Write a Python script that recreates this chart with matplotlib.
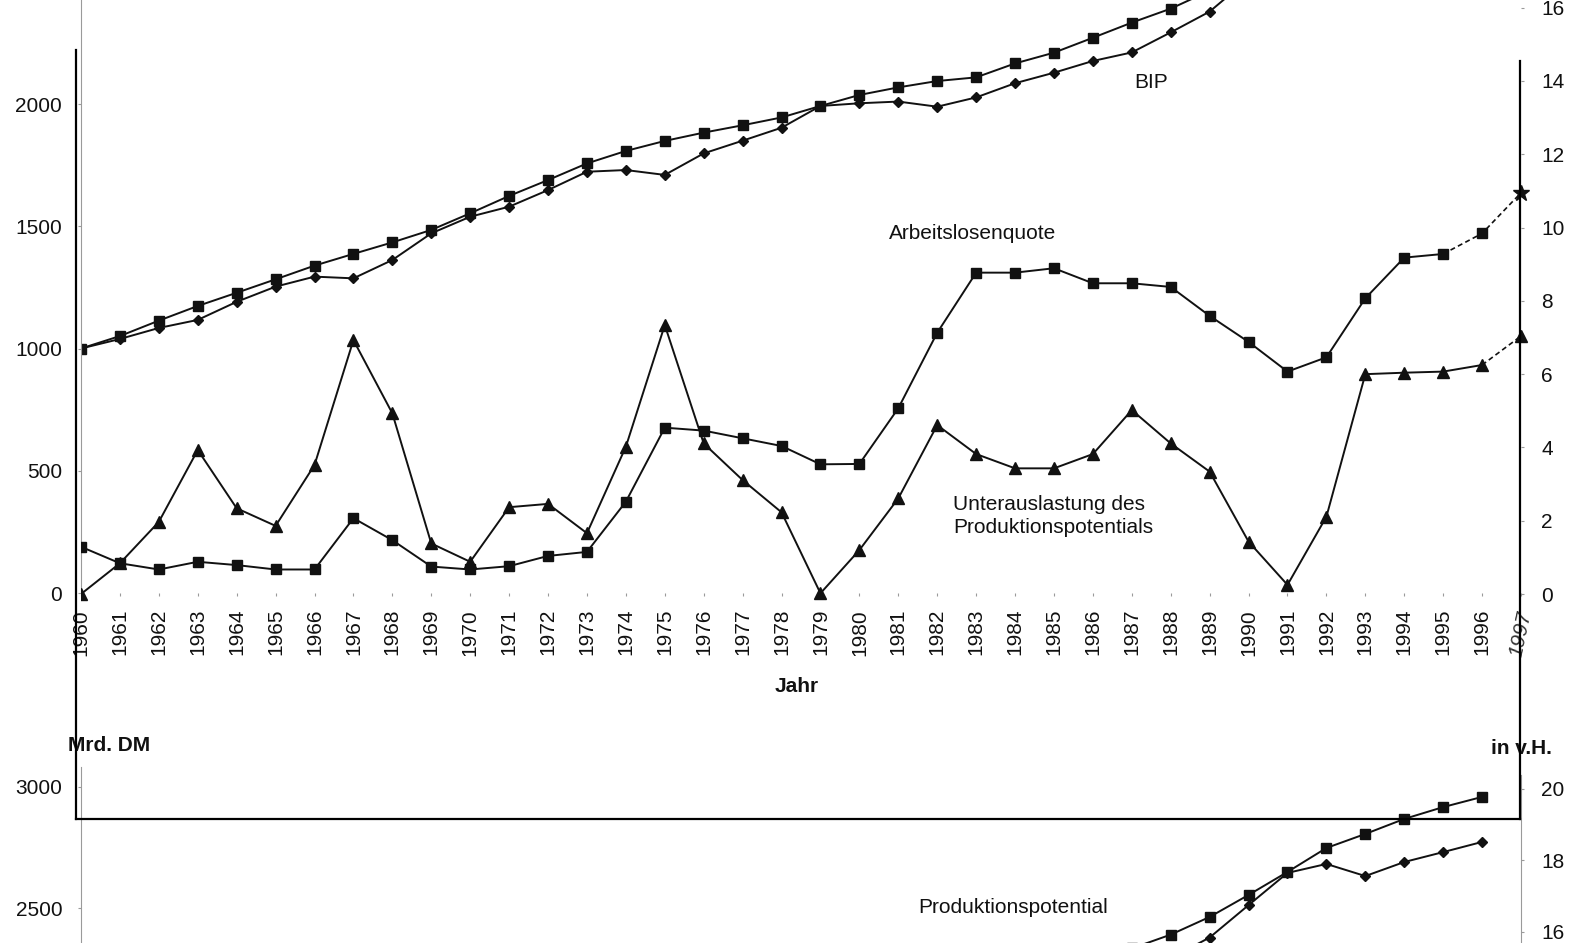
import matplotlib
matplotlib.use("Agg")
import matplotlib.pyplot as plt

plt.rcParams['font.family'] = ['Liberation Sans', 'DejaVu Sans']

# values (Mrd. DM / in v.H.)
years = list(range(1960, 1997))
bip = [1000, 1039, 1084, 1117, 1191, 1253, 1294, 1287, 1362, 1471,
       1539, 1580, 1648, 1723, 1730, 1710, 1798, 1850, 1903, 1992,
       2003, 2010, 1989, 2027, 2085, 2128, 2176, 2211, 2293, 2378,
       2512, 2645, 2682, 2632, 2690, 2731, 2773]
prodpot = [1000, 1051, 1114, 1174, 1228, 1283, 1339, 1387, 1434, 1485,
           1553, 1624, 1689, 1757, 1808, 1849, 1883, 1913, 1945, 1992,
           2037, 2068, 2094, 2109, 2166, 2210, 2271, 2333, 2390, 2463,
           2554, 2649, 2748, 2806, 2868, 2917, 2959]

alq_years = list(range(1960, 1996))
alq = [1.29, 0.84, 0.67, 0.88, 0.79, 0.67, 0.67, 2.07, 1.47, 0.75,
       0.67, 0.76, 1.04, 1.15, 2.52, 4.54, 4.46, 4.25, 4.04, 3.54,
       3.55, 5.07, 7.13, 8.77, 8.77, 8.89, 8.48, 8.48, 8.38, 7.59,
       6.88, 6.07, 6.46, 8.07, 9.18, 9.28]
# hand-drawn extension
alq_ext_years = [1995, 1996, 1997]
alq_ext = [9.28, 9.84, 10.95]

unter = [0.0, 0.84, 1.97, 3.93, 2.34, 1.86, 3.52, 6.93, 4.93, 1.38,
         0.88, 2.37, 2.46, 1.66, 4.02, 7.34, 4.11, 3.11, 2.23, 0.02,
         1.20, 2.61, 4.61, 3.82, 3.43, 3.43, 3.82, 5.02, 4.11, 3.34,
         1.43, 0.25, 2.11, 6.00, 6.04, 6.07, 6.25]
unter_ext_years = [1996, 1997]
unter_ext = [6.25, 7.04]

left_ticks_top = [0, 500, 1000, 1500, 2000]
right_ticks_top = [0, 2, 4, 6, 8, 10, 12, 14, 16]
left_ticks_bot = [2500, 3000]
right_ticks_bot = [16, 18, 20]

W, H = 1574, 943
fig = plt.figure(figsize=(W / 100, H / 100), dpi=100)


def box(x0, y0, x1, y1):
    return [x0 / W, 1 - y1 / H, (x1 - x0) / W, (y1 - y0) / H]


ink = '#111111'
grey = '#9a9a9a'
fs = 15

# lower part of the chart (shown at the top of the scan)
ax1 = fig.add_axes(box(81, 0, 1521, 730), facecolor='none')
ax1.set_xlim(1960, 1997)
ax1.set_ylim(-560.3, 2425.4)
ax1r = ax1.twinx()
ax1r.set_ylim(-3.71, 16.21)

# upper part of the chart (wrapped to the bottom of the scan)
ax2 = fig.add_axes(box(81, 730, 1521, 943), facecolor='none')
ax2.set_xlim(1960, 1997)
ax2.set_ylim(2355.4, 3235.5)
ax2r = ax2.twinx()
ax2r.set_ylim(15.69, 21.65)

line_kw = dict(color=ink, lw=1.4)
for ax in (ax1, ax2):
    ax.plot(years, prodpot, marker='s', ms=7.8, **line_kw)
    ax.plot(years, bip, marker='D', ms=5.5, **line_kw)

ax1r.plot(alq_years, alq, marker='s', ms=7.8, **line_kw)
ax1r.plot(alq_ext_years, alq_ext, ls=(0, (3, 2)), color=ink, lw=1.2)
ax1r.plot(alq_ext_years[1:2], alq_ext[1:2], marker='s', ms=7.8, ls='none', color=ink)
ax1r.plot(alq_ext_years[2:], alq_ext[2:], marker='*', ms=12, ls='none', color=ink, clip_on=False)
ax1r.plot(years, unter, marker='^', ms=8.5, **line_kw)
ax1r.plot(unter_ext_years, unter_ext, ls=(0, (3, 2)), color=ink, lw=1.2)
ax1r.plot(unter_ext_years[1:], unter_ext[1:], marker='^', ms=8.5, ls='none',
          color=ink, clip_on=False)

# axes styling
for ax in (ax1, ax1r, ax2, ax2r):
    for s in ax.spines.values():
        s.set_visible(False)

ax1.spines['left'].set_visible(True)
ax1.spines['left'].set_color(grey)
ax1.spines['left'].set_linewidth(0.8)
ax1.spines['left'].set_bounds(0, 2425)
ax1.spines['bottom'].set_visible(True)
ax1.spines['bottom'].set_position(('data', 0))
ax1.spines['bottom'].set_color('none')

ax2.spines['left'].set_visible(True)
ax2.spines['left'].set_color(grey)
ax2.spines['left'].set_linewidth(0.8)
ax2.spines['left'].set_bounds(2355, 3083)
ax2r.spines['right'].set_visible(True)
ax2r.spines['right'].set_color(grey)
ax2r.spines['right'].set_linewidth(0.8)
ax2r.spines['right'].set_bounds(15.69, 20.4)

ax1.set_yticks(left_ticks_top)
ax1r.set_yticks(right_ticks_top)
ax2.set_yticks(left_ticks_bot)
ax2r.set_yticks(right_ticks_bot)
for ax in (ax1, ax2):
    ax.tick_params(axis='y', length=2.5, width=0.8, color=grey, pad=11,
                   labelsize=fs, labelcolor=ink)
for ax in (ax1r, ax2r):
    ax.tick_params(axis='y', length=2.5, width=0.8, color=grey, pad=12,
                   labelsize=fs, labelcolor=ink)

ax1.set_xticks(years + [1997])
ax1.set_xticklabels([str(y) for y in years] + ['1997'], rotation=90)
ax1.tick_params(axis='x', length=2.5, width=0.8, color=grey, pad=9,
                labelsize=fs, labelcolor=ink)
lab97 = ax1.get_xticklabels()[-1]
lab97.set_style('italic')
lab97.set_rotation(78)
lab97.set_color('#333333')
ax2.set_xticks([])

# texts
ax1.text(1987.5, 2090, 'BIP', ha='center', va='center', fontsize=fs, color=ink)
ax1r.text(1982.9, 9.85, 'Arbeitslosenquote', ha='center', va='center',
          fontsize=fs, color=ink)
ax1r.text(1982.4, 2.13, 'Unterauslastung des\nProduktionspotentials', ha='left',
          va='center', fontsize=fs, color=ink, linespacing=1.3)
ax1.text(1978.4, -384, 'Jahr', ha='center', va='center', fontsize=fs,
         fontweight='bold', color=ink)
ax2.text(1983.95, 2504, 'Produktionspotential', ha='center', va='center',
         fontsize=fs, color=ink)
ax2.text(1959.67, 3173, 'Mrd. DM', ha='left', va='center', fontsize=fs,
         fontweight='bold', color=ink)
ax2.text(1996.23, 3161, 'in v.H.', ha='left', va='center', fontsize=fs,
         fontweight='bold', color=ink)

# dark frame pasted over the scan
axf = fig.add_axes(box(76, 50, 1520, 819), facecolor='none')
axf.set_xticks([])
axf.set_yticks([])
axf.set_xlim(0, 1)
axf.set_ylim(0, 1)
axf.spines['top'].set_visible(False)
for s in ('left', 'right', 'bottom'):
    axf.spines[s].set_linewidth(1.6)
    axf.spines[s].set_color('black')
axf.spines['right'].set_bounds(0, (819 - 61) / (819 - 50))

fig.savefig('out.png', dpi=100)
